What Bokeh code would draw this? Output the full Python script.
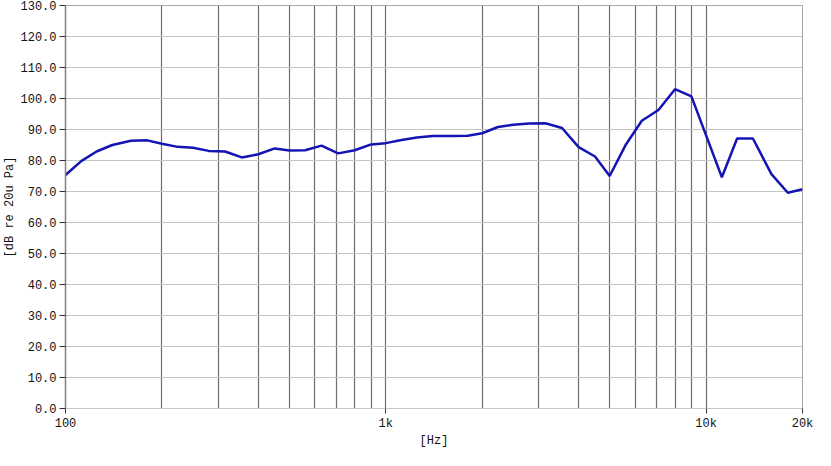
from bokeh.plotting import figure
from bokeh.models import FixedTicker, Range1d
from bokeh.embed import file_html
from bokeh.resources import INLINE

freqs = [100, 112, 125, 140, 160, 180, 200, 224, 250, 280, 315, 355, 400, 450,
         500, 560, 630, 710, 800, 900, 1000, 1120, 1250, 1400, 1600, 1800, 2000,
         2240, 2500, 2800, 3150, 3550, 4000, 4500, 5000, 5600, 6300, 7100, 8000,
         9000, 10000, 11200, 12500, 14000, 16000, 18000, 20000]
spl_db = [75.3, 79.8, 82.9, 85.0, 86.4, 86.5, 85.4, 84.4, 84.1, 83.1, 82.9, 81.0,
          82.0, 83.9, 83.2, 83.3, 84.8, 82.3, 83.3, 85.2, 85.6, 86.6, 87.4, 87.9,
          87.9, 88.0, 88.8, 90.8, 91.5, 91.9, 92.0, 90.5, 84.3, 81.3, 75.0, 84.9,
          92.8, 96.3, 103.0, 100.7, 88.1, 74.6, 87.1, 87.1, 75.6, 69.6, 70.7]

x_ticks = [100, 1000, 10000, 20000]
x_tick_labels = {100: "100", 1000: "1k", 10000: "10k", 20000: "20k"}
x_grid_lines = [200, 300, 400, 500, 600, 700, 800, 900, 1000,
                2000, 3000, 4000, 5000, 6000, 7000, 8000, 9000, 10000]
y_ticks = list(range(0, 131, 10))
y_tick_labels = {v: f"{v:.1f}" for v in y_ticks}

FONT = "Liberation Mono"

p = figure(width=815, height=450, x_axis_type="log",
           x_range=Range1d(100, 20000), y_range=Range1d(0, 130),
           output_backend="svg", toolbar_location=None,
           min_border_left=59, min_border_right=13,
           min_border_top=5, min_border_bottom=37)
p.background_fill_color = "white"
p.border_fill_color = "white"
p.outline_line_color = "#a8a8a8"

p.line(freqs, spl_db, line_color="#1414B4", line_width=2.5)

# x axis
p.xaxis.ticker = FixedTicker(ticks=x_ticks, minor_ticks=[])
p.xaxis.major_label_overrides = x_tick_labels
p.xaxis.axis_label = "[Hz]"
p.xaxis.axis_line_color = "#c8c8c8"
p.xaxis.major_tick_line_color = "#333333"
p.xaxis.major_tick_out = 5
p.xaxis.major_tick_in = 0
p.xaxis.minor_tick_line_color = None
p.xaxis.major_label_standoff = 3
p.xaxis.axis_label_standoff = 0

# y axis
p.yaxis.ticker = FixedTicker(ticks=y_ticks, minor_ticks=[])
p.yaxis.major_label_overrides = y_tick_labels
p.yaxis.axis_label = "[dB re 20u Pa]"
p.yaxis.axis_line_color = "#808080"
p.yaxis.axis_line_width = 1.5
p.yaxis.major_tick_line_color = "#333333"
p.yaxis.major_tick_out = 6
p.yaxis.major_tick_in = 0
p.yaxis.minor_tick_line_color = None
p.yaxis.major_label_standoff = 3
p.yaxis.axis_label_standoff = 0

for ax in (p.xaxis, p.yaxis):
    ax.major_label_text_font = FONT
    ax.major_label_text_font_size = "12px"
    ax.major_label_text_color = "#111111"
    ax.axis_label_text_font = FONT
    ax.axis_label_text_font_size = "12px"
    ax.axis_label_text_font_style = "normal"
    ax.axis_label_text_color = "#111111"

# grids
p.xgrid.ticker = FixedTicker(ticks=x_grid_lines, minor_ticks=[])
p.xgrid.grid_line_color = "#6e6e6e"
p.xgrid.grid_line_width = 1.2
p.ygrid.ticker = FixedTicker(ticks=y_ticks, minor_ticks=[])
p.ygrid.grid_line_color = "#c4c4c4"
p.ygrid.grid_line_width = 1.2
p.ygrid.level = "underlay"

open("out.html", "w").write(file_html(p, INLINE))
